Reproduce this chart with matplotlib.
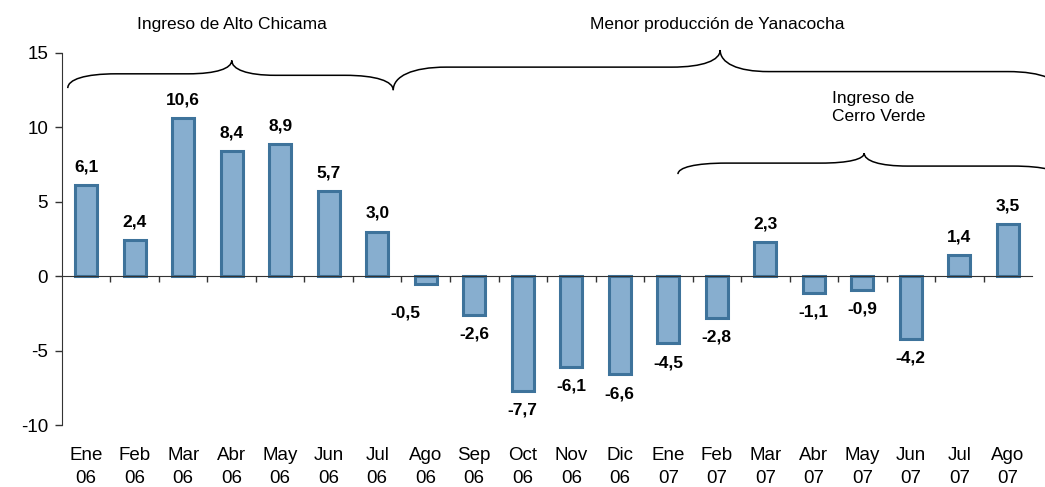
import matplotlib
matplotlib.use("Agg")
import matplotlib.pyplot as plt
from matplotlib.path import Path
from matplotlib.patches import PathPatch

plt.rcParams['font.family'] = ['Liberation Sans', 'DejaVu Sans']

months = ["Ene", "Feb", "Mar", "Abr", "May", "Jun", "Jul", "Ago", "Sep", "Oct", "Nov", "Dic",
          "Ene", "Feb", "Mar", "Abr", "May", "Jun", "Jul", "Ago"]
years = ["06"] * 12 + ["07"] * 8
values = [6.1, 2.4, 10.6, 8.4, 8.9, 5.7, 3.0, -0.5, -2.6, -7.7, -6.1, -6.6,
          -4.5, -2.8, 2.3, -1.1, -0.9, -4.2, 1.4, 3.5]

fill_color = "#87AECF"
edge_color = "#3E739B"

# a couple of labels sit off the default spot in the original
label_nudge = {7: (-15, -21)}


def brace(ax, x0, y0, yl, xm, ym, yr, x1, y1, w_end=1.0, w_mid=0.9):
    # curly brace drawn as bezier pieces, in data coords
    verts = [
        (x0, y0),
        (x0, y0 + 0.6 * (yl - y0)), (x0 + 0.35 * w_end, yl), (x0 + w_end, yl),
        (xm - w_mid, yl),
        (xm - 0.35 * w_mid, yl), (xm, yl + 0.4 * (ym - yl)), (xm, ym),
        (xm, yr + 0.4 * (ym - yr)), (xm + 0.35 * w_mid, yr), (xm + w_mid, yr),
        (x1 - w_end, yr),
        (x1 - 0.35 * w_end, yr), (x1, y1 + 0.6 * (yr - y1)), (x1, y1),
    ]
    codes = [Path.MOVETO,
             Path.CURVE4, Path.CURVE4, Path.CURVE4,
             Path.LINETO,
             Path.CURVE4, Path.CURVE4, Path.CURVE4,
             Path.CURVE4, Path.CURVE4, Path.CURVE4,
             Path.LINETO,
             Path.CURVE4, Path.CURVE4, Path.CURVE4]
    ax.add_patch(PathPatch(Path(verts, codes), facecolor="none", edgecolor="black",
                           linewidth=1.1, clip_on=False))


fig = plt.figure(figsize=(10.45, 4.87), dpi=100)
ax = fig.add_axes([0.0593, 0.1273, 0.9283, 0.7639])

x = list(range(len(values)))
ax.bar(x, values, width=0.45, color=fill_color, edgecolor=edge_color, linewidth=2.2, zorder=2)

for xi, v in zip(x, values):
    lbl = f"{v:.1f}".replace(".", ",")
    off = (0, 13) if v >= 0 else (0, -14)
    off = label_nudge.get(xi, off)
    ax.annotate(lbl, (xi, v), xytext=off, textcoords="offset points",
                ha="center", va="center", fontsize=12.5, fontweight="bold")

ax.set_xlim(-0.5, len(values) - 0.5)
ax.set_ylim(-10, 15)
ax.set_yticks([-10, -5, 0, 5, 10, 15])
ax.set_yticklabels(["-10", "-5", "0", "5", "10", "15"])
ax.tick_params(axis="y", labelsize=13.5, length=5, width=1, color="#333333", pad=5)

for s in ["top", "right"]:
    ax.spines[s].set_visible(False)
ax.spines["left"].set_color("#333333")
ax.spines["bottom"].set_position(("data", 0))
ax.spines["bottom"].set_color("#333333")
ax.set_xticks([i + 0.5 for i in range(len(values) - 1)])
ax.set_xticklabels([])
ax.tick_params(axis="x", length=4, width=1, color="#333333", direction="out")

sec = ax.secondary_xaxis(0)
sec.set_xticks(x)
sec.set_xticklabels([f"{m}\n{y}" for m, y in zip(months, years)], linespacing=1.45)
sec.tick_params(length=0, labelsize=13.5, pad=16)
sec.spines["bottom"].set_visible(False)

# braces and notes
brace(ax, -0.38, 12.64, 13.6, 3.0, 14.5, 13.5, 6.33, 12.5, w_end=1.0, w_mid=0.9)
brace(ax, 6.33, 12.5, 14.05, 13.07, 15.2, 13.75, 20.1, 12.3, w_end=1.1, w_mid=1.0)
brace(ax, 12.2, 6.86, 7.6, 16.04, 8.27, 7.4, 20.1, 6.6, w_end=1.0, w_mid=0.9)

ax.text(3.0, 16.9, "Ingreso de Alto Chicama", ha="center", va="center", fontsize=12.5)
ax.text(13.0, 16.9, "Menor producción de Yanacocha", ha="center", va="center", fontsize=12.5)
ax.text(15.38, 11.33, "Ingreso de\nCerro Verde", ha="left", va="center", fontsize=12.5,
        linespacing=1.3)

fig.savefig("out.png", dpi=100)
